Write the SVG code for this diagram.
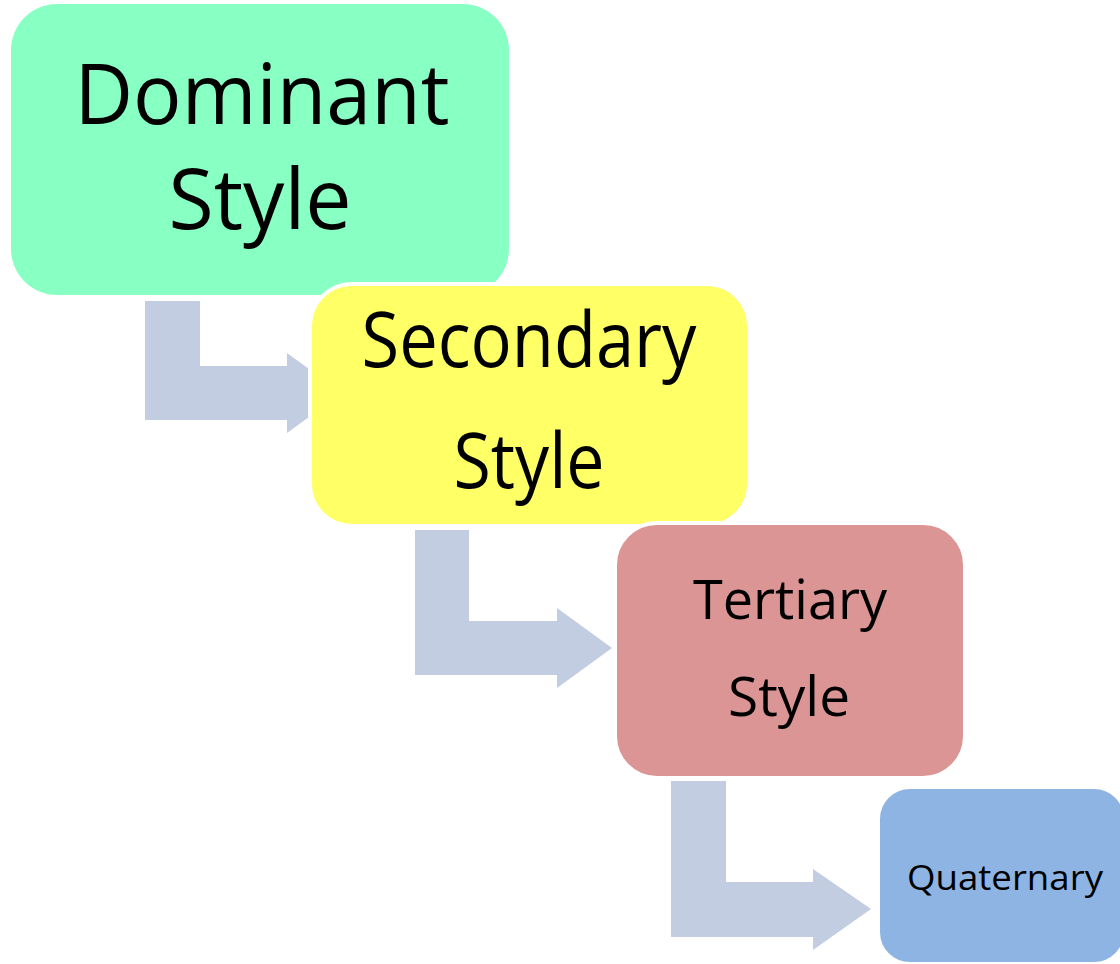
<svg xmlns="http://www.w3.org/2000/svg" width="1120" height="964" viewBox="0 0 1120 964">
<style>
.box{stroke:#fff;stroke-width:4}
.arrow{fill:#C3CDE1}
.lbl{font-family:"Open Sans","Liberation Sans",sans-serif;fill:#000;text-anchor:middle}
</style>
<rect width="1120" height="964" fill="#fff"/>
<g id="connectors">
<path class="arrow" d="M145,301 H200 V366 H287 V353 L342,393 L287,433 V420 H145 Z"/>
<path class="arrow" d="M415,530 H469 V621 H557 V608 L612,648 L557,688 V675 H415 Z"/>
<path class="arrow" d="M671,781 H726 V882 H813 V869 L871,909 L813,950 V937 H671 Z"/>
</g>
<g id="node-dominant">
<rect x="11" y="4" width="498" height="291" rx="46" fill="#88FFC3"/>
<text class="lbl" x="262" y="124" font-size="85" textLength="375" lengthAdjust="spacingAndGlyphs">Dominant</text>
<text class="lbl" x="260" y="229" font-size="85" textLength="183" lengthAdjust="spacingAndGlyphs">Style</text>
</g>
<g id="node-secondary">
<rect class="box" x="310" y="284" width="439" height="242" rx="42" fill="#FFFF66"/>
<text class="lbl" x="529" y="367" font-size="76" textLength="335" lengthAdjust="spacingAndGlyphs">Secondary</text>
<text class="lbl" x="529" y="488" font-size="76" textLength="151" lengthAdjust="spacingAndGlyphs">Style</text>
</g>
<g id="node-tertiary">
<rect class="box" x="615" y="523" width="350" height="255" rx="42" fill="#DA9594"/>
<text class="lbl" x="790" y="619" font-size="55" textLength="194" lengthAdjust="spacingAndGlyphs">Tertiary</text>
<text class="lbl" x="789" y="716" font-size="55" textLength="122" lengthAdjust="spacingAndGlyphs">Style</text>
</g>
<g id="node-quaternary">
<rect class="box" x="878" y="787" width="248" height="177" rx="32" fill="#8EB4E3"/>
<text class="lbl" x="1005" y="890" font-size="34" textLength="196" lengthAdjust="spacingAndGlyphs">Quaternary</text>
</g>
</svg>
